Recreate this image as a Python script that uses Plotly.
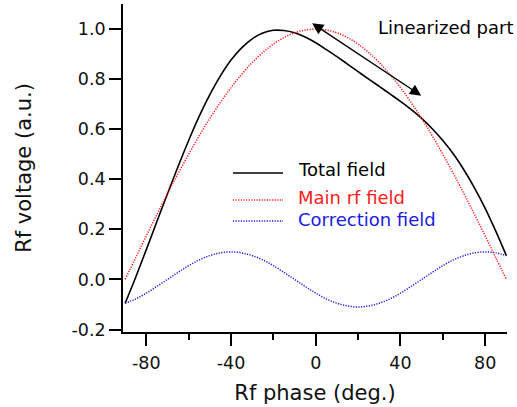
import plotly.graph_objects as go

# Data (Rf phase in degrees)
phase = [-90, -85, -80, -75, -70, -65, -60, -55, -50, -45, -40, -35, -30, -25, -20, -15, -10, -5,
         0, 5, 10, 15, 20, 25, 30, 35, 40, 45, 50, 55, 60, 65, 70, 75, 80, 85, 90]
total_field = [-0.095, 0.009, 0.119, 0.231, 0.342, 0.451, 0.555, 0.652, 0.738, 0.813, 0.876, 0.925,
               0.961, 0.984, 0.995, 0.994, 0.985, 0.968, 0.945, 0.918, 0.890, 0.860, 0.830, 0.800,
               0.771, 0.741, 0.711, 0.679, 0.643, 0.602, 0.555, 0.501, 0.437, 0.365, 0.284, 0.193, 0.095]
main_rf_field = [0.000, 0.087, 0.174, 0.259, 0.342, 0.423, 0.500, 0.574, 0.643, 0.707, 0.766, 0.819,
                 0.866, 0.906, 0.940, 0.966, 0.985, 0.996, 1.000, 0.996, 0.985, 0.966, 0.940, 0.906,
                 0.866, 0.819, 0.766, 0.707, 0.643, 0.574, 0.500, 0.423, 0.342, 0.259, 0.174, 0.087, 0.000]
correction_field = [-0.095, -0.078, -0.055, -0.028, 0.000, 0.028, 0.055, 0.078, 0.095, 0.106, 0.110,
                    0.106, 0.095, 0.078, 0.055, 0.028, 0.000, -0.028, -0.055, -0.078, -0.095, -0.106,
                    -0.110, -0.106, -0.095, -0.078, -0.055, -0.028, 0.000, 0.028, 0.055, 0.078, 0.095,
                    0.106, 0.110, 0.106, 0.095]

x_ticks = [-80, -40, 0, 40, 80]
x_ticklabels = ["-80", "-40", "0", "40", "80"]
x_minor = [-60, -20, 20, 60]
y_ticks = [-0.2, 0.0, 0.2, 0.4, 0.6, 0.8, 1.0]
y_ticklabels = ["-0.2", "0.0", "0.2", "0.4", "0.6", "0.8", "1.0"]

series_names = ["Total field", "Main rf field", "Correction field"]
arrow_start = (-1.7, 1.023)
arrow_end = (50.5, 0.730)

FONT = "DejaVu Sans"
BLACK = "#000000"
RED = "#ff1a1a"
BLUE = "#1a1ae6"
DOT = "1.2px,1.4px"

fig = go.Figure()
fig.add_trace(go.Scatter(x=phase, y=total_field, mode="lines", name=series_names[0],
                         line=dict(color=BLACK, width=1.6, shape="spline"), showlegend=False))
fig.add_trace(go.Scatter(x=phase, y=main_rf_field, mode="lines", name=series_names[1],
                         line=dict(color=RED, width=1.5, dash=DOT, shape="spline"), showlegend=False))
fig.add_trace(go.Scatter(x=phase, y=correction_field, mode="lines", name=series_names[2],
                         line=dict(color=BLUE, width=1.5, dash=DOT, shape="spline"), showlegend=False))

# plot area geometry in pixels (for legend placement in paper units)
L, R, T, B = 123, 10, 4, 75
W, H = 517, 407
pw, ph = W - L - R, H - T - B


def px_to_paper(px, py):
    return (px - L) / pw, (H - B - py) / ph


shapes = []
annotations = []
legend_rows = [
    (series_names[0], BLACK, "solid", 173, 169),
    (series_names[1], RED, DOT, 200, 197),
    (series_names[2], BLUE, DOT, 221, 220),
]
for name, col, dash, ly, ty in legend_rows:
    x0, y0 = px_to_paper(233, ly)
    x1, _ = px_to_paper(283, ly)
    shapes.append(dict(type="line", xref="paper", yref="paper", x0=x0, x1=x1, y0=y0, y1=y0,
                       line=dict(color=col, width=1.6 if dash == "solid" else 1.5, dash=dash)))
    tx, tyy = px_to_paper(296, ty)
    annotations.append(dict(xref="paper", yref="paper", x=tx, y=tyy, text=name, showarrow=False,
                            xanchor="left", yanchor="middle",
                            font=dict(family=FONT, size=18, color=col)))

lx, ly_ = px_to_paper(376, 28)
annotations.append(dict(xref="paper", yref="paper", x=lx, y=ly_, text="Linearized part",
                        showarrow=False, xanchor="left", yanchor="middle",
                        font=dict(family=FONT, size=18, color=BLACK)))

annotations.append(dict(x=arrow_start[0], y=arrow_start[1], xref="x", yref="y",
                        ax=arrow_end[0], ay=arrow_end[1], axref="x", ayref="y",
                        text="", showarrow=True, arrowhead=2, startarrowhead=2,
                        arrowside="end+start", arrowsize=1.6, startarrowsize=1.6,
                        arrowwidth=1.4, arrowcolor=BLACK))

fig.update_layout(
    width=W, height=H,
    margin=dict(l=L, r=R, t=T, b=B, autoexpand=False),
    paper_bgcolor="white", plot_bgcolor="white",
    font=dict(family=FONT, size=17, color="#111111"),
    shapes=shapes, annotations=annotations,
)
fig.update_xaxes(range=[-91, 90.3], showgrid=False, zeroline=False, showline=True, automargin=False,
                 linecolor=BLACK, linewidth=1.6, ticks="outside", ticklen=12, tickwidth=1.5,
                 tickcolor=BLACK, tickvals=x_ticks, ticktext=x_ticklabels, ticklabelstandoff=2,
                 minor=dict(tickvals=x_minor, ticks="outside", ticklen=6, tickwidth=1.5, tickcolor=BLACK),
                 tickfont=dict(family=FONT, size=17.5),
                 title=dict(text="Rf phase (deg.)", font=dict(family=FONT, size=21), standoff=14))
fig.update_yaxes(range=[-0.21, 1.1], showgrid=False, zeroline=False, showline=True, automargin=False,
                 linecolor=BLACK, linewidth=1.6, ticks="outside", ticklen=12, tickwidth=1.5,
                 tickcolor=BLACK, tickvals=y_ticks, ticktext=y_ticklabels,
                 tickfont=dict(family=FONT, size=17.5),
                 title=dict(text="Rf voltage (a.u.)", font=dict(family=FONT, size=21), standoff=34))

fig.write_html("out.html", config={"displayModeBar": False},
               post_script="document.body.style.margin='0';document.body.style.padding='0';")
